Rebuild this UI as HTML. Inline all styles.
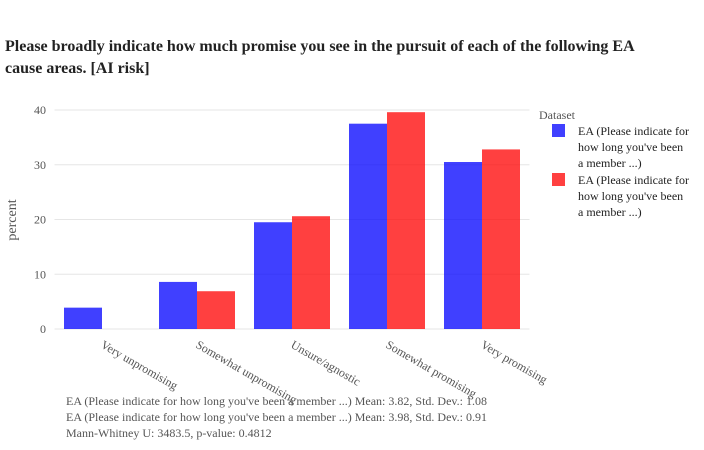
<!DOCTYPE html>
<html><head><meta charset="utf-8"><style>
body{margin:0;background:#fff;}
svg{display:block;font-family:"Liberation Serif",serif;}
</style></head><body>
<svg id="chart" width="704" height="450">
<text x="5" y="51" font-size="16" font-weight="bold" fill="#222">Please broadly indicate how much promise you see in the pursuit of each of the following EA</text>
<text x="5" y="73" font-size="16" font-weight="bold" fill="#222">cause areas. [AI risk]</text>
<text transform="translate(16,220) rotate(-90)" text-anchor="middle" font-size="14" fill="#555">percent</text>
<g id="grid"></g><g id="bars"></g><g id="xlabels"></g>
<text x="539" y="119" font-size="12" fill="#555">Dataset</text>
<rect x="552" y="124" width="13" height="13" fill="rgba(0,0,255,0.75)"/>
<text font-size="12" fill="#222"><tspan x="578" y="135">EA (Please indicate for</tspan><tspan x="578" y="151">how long you've been</tspan><tspan x="578" y="167">a member ...)</tspan></text>
<rect x="552" y="173" width="13" height="13" fill="rgba(255,0,0,0.75)"/>
<text font-size="12" fill="#222"><tspan x="578" y="184">EA (Please indicate for</tspan><tspan x="578" y="200">how long you've been</tspan><tspan x="578" y="216">a member ...)</tspan></text>
<text font-size="12" fill="#555"><tspan x="66" y="405">EA (Please indicate for how long you've been a member ...) Mean: 3.82, Std. Dev.: 1.08</tspan><tspan x="66" y="421">EA (Please indicate for how long you've been a member ...) Mean: 3.98, Std. Dev.: 0.91</tspan><tspan x="66" y="437">Mann-Whitney U: 3483.5, p-value: 0.4812</tspan></text>
</svg>
<script>
const categories=["Very unpromising","Somewhat unpromising","Unsure/agnostic","Somewhat promising","Very promising"];
const blueValues=[3.9,8.6,19.5,37.5,30.5];
const redValues=[0,6.9,20.6,39.6,32.8];
const yTicks=[0,10,20,30,40];
const NS="http://www.w3.org/2000/svg";
const x0=54.5,slot=95,y0=329,pxPer=5.475;
const yS=v=>y0-v*pxPer;
const grid=document.getElementById('grid'),bars=document.getElementById('bars'),xl=document.getElementById('xlabels');
function mk(tag,attrs,parent){const e=document.createElementNS(NS,tag);for(const k in attrs)e.setAttribute(k,attrs[k]);parent.appendChild(e);return e;}
yTicks.forEach(t=>{
  const l=mk('line',{x1:x0,x2:x0+slot*5,y1:yS(t),y2:yS(t),stroke:'#e6e6e6','stroke-width':1},grid);
  
  
  const tx=mk('text',{x:46,y:yS(t)+4,'text-anchor':'end','font-size':12,fill:'#555'},grid);
  tx.textContent=t;
  
  
});
categories.forEach((c,i)=>{
  const bx=x0+i*slot+9.5;
  const b=mk('rect',{x:bx,y:yS(blueValues[i]),width:38,height:blueValues[i]*pxPer,fill:'rgba(0,0,255,0.75)'},bars);
  
  
  const r=mk('rect',{x:bx+38,y:yS(redValues[i]),width:38,height:redValues[i]*pxPer,fill:'rgba(255,0,0,0.75)'},bars);
  
  
  const cx=x0+i*slot+slot/2-2;
  const t=mk('text',{transform:`translate(${cx},${347}) rotate(30)`,'font-size':12,fill:'#555'},xl);
  t.textContent=c;
  
  
});
</script>
</body></html>
